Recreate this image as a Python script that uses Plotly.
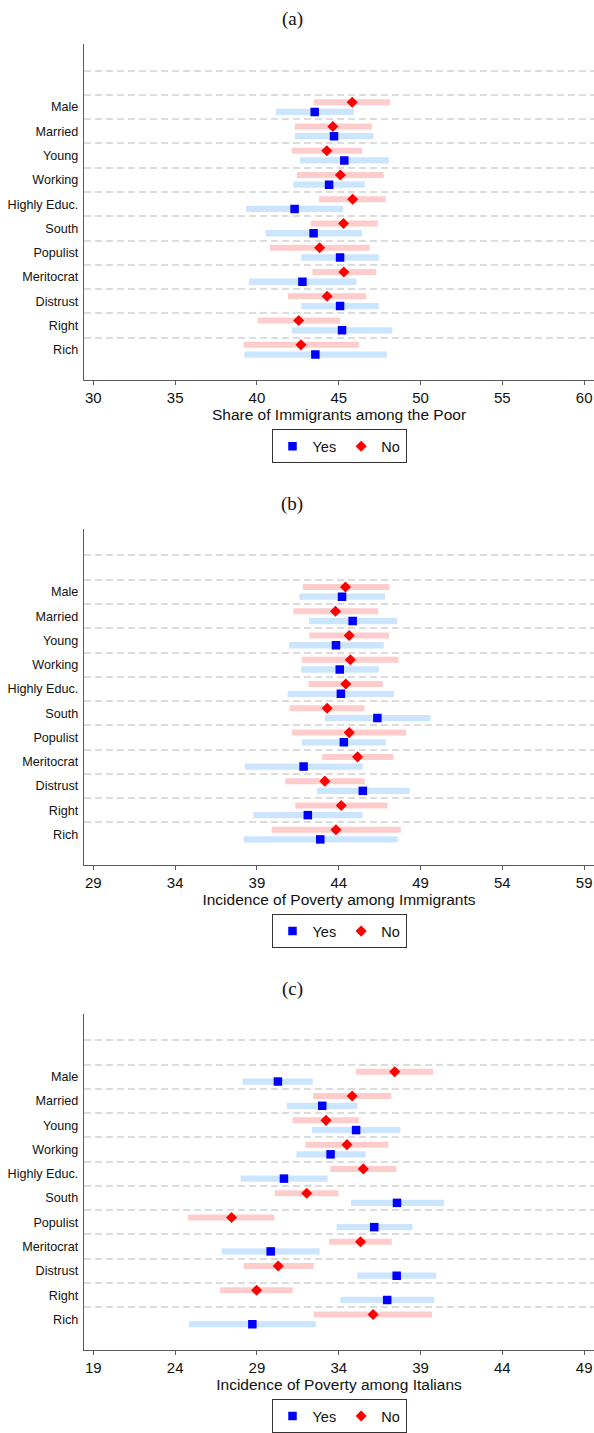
import plotly.graph_objects as go

# Characteristics of respondents (rows, top to bottom)
categories = ["Male", "Married", "Young", "Working", "Highly Educ.", "South",
              "Populist", "Meritocrat", "Distrust", "Right", "Rich"]

# (a) Share of Immigrants among the Poor
share_yes = [43.53, 44.71, 45.34, 44.41, 42.30, 43.46, 45.08, 42.78, 45.08, 45.20, 43.57]
share_yes_lo = [41.16, 42.32, 42.62, 42.23, 39.33, 40.53, 42.71, 39.51, 42.71, 42.13, 39.23]
share_yes_hi = [45.92, 47.12, 48.07, 46.59, 45.27, 46.43, 47.45, 46.08, 47.45, 48.28, 47.94]
share_no = [45.82, 44.64, 44.27, 45.10, 45.85, 45.29, 43.83, 45.31, 44.29, 42.55, 42.69]
share_no_lo = [43.48, 42.32, 42.13, 42.44, 43.80, 43.29, 40.79, 43.39, 41.90, 40.05, 39.19]
share_no_hi = [48.14, 47.03, 46.43, 47.75, 47.87, 47.38, 46.89, 47.29, 46.68, 45.08, 46.24]

# (b) Incidence of Poverty among Immigrants
imm_yes = [44.20, 44.85, 43.83, 44.06, 44.13, 46.36, 44.31, 41.85, 45.47, 42.11, 42.87]
imm_yes_lo = [41.60, 42.18, 40.97, 41.69, 40.88, 43.15, 41.74, 38.26, 42.67, 38.79, 38.19]
imm_yes_hi = [46.82, 47.56, 46.75, 46.45, 47.38, 49.60, 46.87, 45.47, 48.33, 45.45, 47.61]
imm_no = [44.41, 43.80, 44.64, 44.71, 44.43, 43.29, 44.64, 45.15, 43.15, 44.15, 43.83]
imm_no_lo = [41.81, 41.23, 42.20, 41.74, 42.16, 41.00, 41.13, 42.99, 40.72, 41.34, 39.90]
imm_no_hi = [47.10, 46.40, 47.07, 47.65, 46.70, 45.57, 48.12, 47.35, 45.59, 46.98, 47.79]

# (c) Incidence of Poverty among Italians
ita_yes = [30.28, 32.99, 35.06, 33.50, 30.65, 37.56, 36.17, 29.84, 37.54, 36.96, 28.72]
ita_yes_lo = [28.12, 30.83, 32.36, 31.41, 28.00, 34.75, 33.87, 26.87, 35.13, 34.10, 24.85]
ita_yes_hi = [32.41, 35.15, 37.77, 35.64, 33.32, 40.44, 38.51, 32.83, 39.95, 39.83, 32.60]
ita_no = [37.42, 34.82, 33.22, 34.50, 35.50, 32.04, 27.45, 35.33, 30.30, 28.98, 36.10]
ita_no_lo = [35.06, 32.43, 31.18, 31.97, 33.48, 30.09, 24.78, 33.41, 28.19, 26.75, 32.48]
ita_no_hi = [39.77, 37.21, 35.24, 37.03, 37.52, 33.99, 30.07, 37.24, 32.46, 31.18, 39.70]

panel_titles = ["(a)", "(b)", "(c)"]
axis_titles = ["Share of Immigrants among the Poor",
               "Incidence of Poverty among Immigrants",
               "Incidence of Poverty among Italians"]
tick_values = [list(range(30, 61, 5)), list(range(29, 60, 5)), list(range(19, 50, 5))]
x_ranges = [[29.43, 60.6], [28.43, 59.6], [18.43, 49.6]]

panels = [
    (share_yes, share_yes_lo, share_yes_hi, share_no, share_no_lo, share_no_hi),
    (imm_yes, imm_yes_lo, imm_yes_hi, imm_no, imm_no_lo, imm_no_hi),
    (ita_yes, ita_yes_lo, ita_yes_hi, ita_no, ita_no_lo, ita_no_hi),
]

# page geometry (pixels)
W, H = 594, 1433
plot_left = 84
panel_tops = [44, 529.5, 1015]
panel_h = 336.7
title_y = [19, 504.5, 990]
legend_y = [447, 932.5, 1418]

BLUE, RED = "#0000ff", "#ff0000"
LIGHT_BLUE, LIGHT_RED = "#cce5ff", "#ffcccc"
SANS = "'Liberation Sans', Arial, sans-serif"
TEXT = "#111111"
OFFSET = 0.2  # vertical shift of the two groups within a row


def segments(lo, hi, shift):
    xs, ys = [], []
    for i, (a, b) in enumerate(zip(lo, hi)):
        xs += [a, b, None]
        ys += [i + 1 + shift, i + 1 + shift, None]
    return xs, ys


fig = go.Figure()
layout = dict(
    width=W, height=H, margin=dict(l=0, r=0, t=0, b=0),
    paper_bgcolor="white", plot_bgcolor="white",
    font=dict(family=SANS, color=TEXT),
    annotations=[], showlegend=True,
)

for k, (yes, yes_lo, yes_hi, no, no_lo, no_hi) in enumerate(panels):
    n = k + 1
    xa = "x" if n == 1 else f"x{n}"
    ya = "y" if n == 1 else f"y{n}"
    lg = "legend" if n == 1 else f"legend{n}"
    pos = list(range(1, len(categories) + 1))

    # confidence intervals
    sx, sy = segments(yes_lo, yes_hi, OFFSET)
    fig.add_trace(go.Scatter(x=sx, y=sy, mode="lines", xaxis=xa, yaxis=ya,
                             line=dict(color=LIGHT_BLUE, width=6.3),
                             showlegend=False, hoverinfo="skip", legend=lg))
    sx, sy = segments(no_lo, no_hi, -OFFSET)
    fig.add_trace(go.Scatter(x=sx, y=sy, mode="lines", xaxis=xa, yaxis=ya,
                             line=dict(color=LIGHT_RED, width=6),
                             showlegend=False, hoverinfo="skip", legend=lg))
    # point estimates
    fig.add_trace(go.Scatter(x=yes, y=[p + OFFSET for p in pos], mode="markers",
                             name="Yes", xaxis=xa, yaxis=ya, legend=lg,
                             marker=dict(symbol="square", size=8.5, color=BLUE,
                                         line=dict(width=0))))
    fig.add_trace(go.Scatter(x=no, y=[p - OFFSET for p in pos], mode="markers",
                             name="No", xaxis=xa, yaxis=ya, legend=lg,
                             marker=dict(symbol="diamond", size=8.5, color=RED,
                                         line=dict(width=0))))

    top = 1 - panel_tops[k] / H
    bottom = 1 - (panel_tops[k] + panel_h) / H

    layout["xaxis" if n == 1 else f"xaxis{n}"] = dict(
        domain=[plot_left / W, 1], anchor=ya, range=x_ranges[k],
        tickmode="array", tickvals=tick_values[k],
        showline=True, linecolor="#5a5a5a", linewidth=1.4,
        ticks="outside", ticklen=4, tickwidth=1, tickcolor="#5a5a5a",
        tickfont=dict(size=15, color=TEXT),
        showgrid=False, zeroline=False,
        title=dict(text=axis_titles[k], font=dict(size=15.5, color=TEXT),
                   standoff=3),
    )
    layout["yaxis" if n == 1 else f"yaxis{n}"] = dict(
        domain=[bottom, top], anchor=xa, range=[12.255, -1.6],
        tickmode="array", tickvals=pos, ticktext=categories,
        tickfont=dict(size=12.6, color=TEXT), ticks="",
        ticklabelstandoff=2,
        showline=True, linecolor="#5a5a5a", linewidth=1.4,
        showgrid=False, zeroline=False,
        minor=dict(tickmode="array",
                   tickvals=[p - 0.5 for p in range(0, len(categories) + 1)],
                   showgrid=True, gridcolor="#dcdcdc", gridwidth=1.6,
                   griddash="7px,4px", ticks=""),
    )
    layout[lg] = dict(
        orientation="h", x=(plot_left + (W - plot_left) / 2) / W, xanchor="center",
        y=1 - legend_y[k] / H, yanchor="middle",
        bordercolor="#333333", borderwidth=1, bgcolor="white",
        font=dict(size=14.5, color=TEXT), itemwidth=30,
    )
    layout["annotations"].append(dict(
        text=panel_titles[k], xref="paper", yref="paper",
        x=292 / W, y=1 - title_y[k] / H, xanchor="center", yanchor="middle",
        showarrow=False, font=dict(family="'Liberation Serif', serif", size=19,
                                   color=TEXT),
    ))

fig.update_layout(**layout)
fig.write_html("out.html")
